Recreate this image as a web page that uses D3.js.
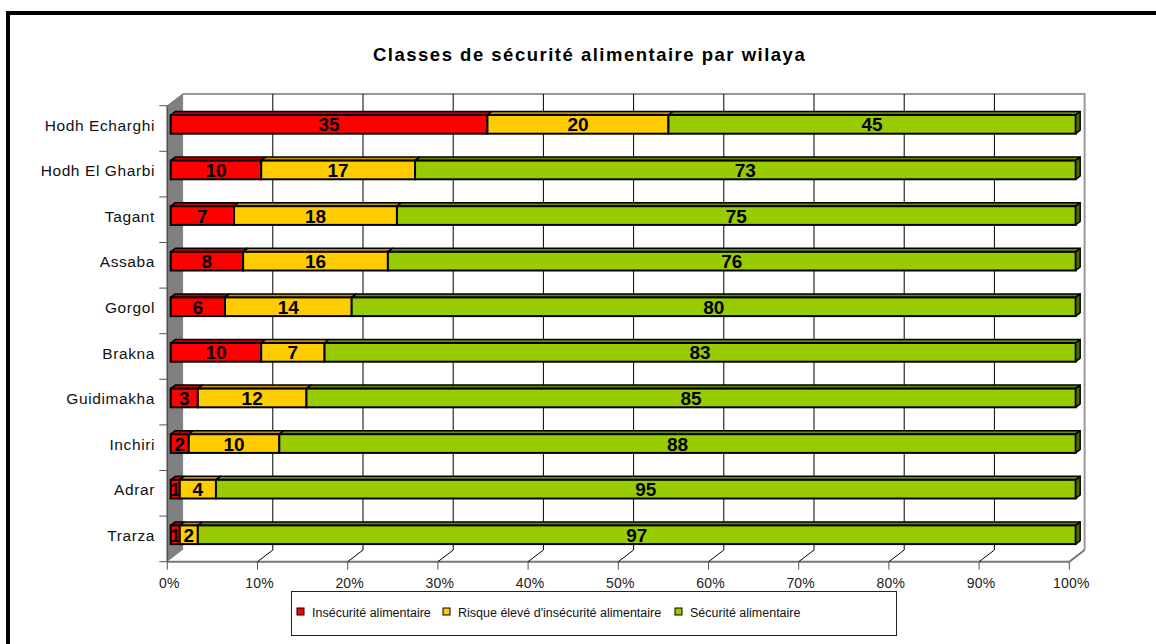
<!DOCTYPE html>
<html>
<head>
<meta charset="utf-8">
<script src="https://cdn.jsdelivr.net/npm/d3@7/dist/d3.min.js"></script>
<style>
  body { margin: 0; background: #fff; }
  svg { display: block; font-family: "Liberation Sans", Arial, sans-serif; }
</style>
</head>
<body>
<svg id="chart" width="1156" height="644"></svg>
<script>
const categories = ["Hodh Echarghi", "Hodh El Gharbi", "Tagant", "Assaba", "Gorgol", "Brakna", "Guidimakha", "Inchiri", "Adrar", "Trarza"]
const insecure = [35, 10, 7, 8, 6, 10, 3, 2, 1, 1]
const risk = [20, 17, 18, 16, 14, 7, 12, 10, 4, 2]
const secure = [45, 73, 75, 76, 80, 83, 85, 88, 95, 97]
const seriesNames = ["Insécurité alimentaire", "Risque élevé d'insécurité alimentaire", "Sécurité alimentaire"]
const xTicks = [0, 10, 20, 30, 40, 50, 60, 70, 80, 90, 100]

const colors = ["#ff0000", "#ffcc00", "#99cc00"]
const topColors = ["#c00000", "#c09000", "#668800"]
const sideColors = ["#a00000", "#a07800", "#4f6b00"]

let svg = d3.select("#chart")

// outer frame
svg.append("rect")
  .attr("x", 8).attr("y", 13)
  .attr("width", 1200).attr("height", 700)
  .attr("fill", "none").attr("stroke", "#000").attr("stroke-width", 4)

svg.append("text")
  .attr("x", 373).attr("y", 61)
  .style("font-size", "18.5px").style("font-weight", "bold")
  .style("letter-spacing", "1.5px")
  .text("Classes de sécurité alimentaire par wilaya")

// 3d box geometry
const depth = {dx: 15.3, dy: -11.7}
const front = {left: 167.3, right: 1069.3, top: 105.7, bottom: 561.7}

let x = d3.scaleLinear().domain([0, 100]).range([front.left, front.right])
let xBar = d3.scaleLinear().domain([0, 100]).range([170.7, 1075.7])
let y = d3.scaleBand().domain(categories).range([front.top, front.bottom])

let wall = svg.append("g")
const bx = v => x(v) + depth.dx
const by = v => v + depth.dy

// back wall
wall.append("rect")
  .attr("x", bx(0)).attr("y", by(front.top))
  .attr("width", x(100) - x(0)).attr("height", front.bottom - front.top)
  .attr("fill", "#fff")
wall.append("path")
  .attr("d", `M${bx(0)},${by(front.top)}H${bx(100)}V${by(front.bottom)}`)
  .attr("fill", "none").attr("stroke", "#999").attr("stroke-width", 2)

// left wall
wall.append("path")
  .attr("d", `M${x(0)},${front.top}L${bx(0)},${by(front.top)}L${bx(0)},${by(front.bottom)}L${x(0)},${front.bottom}Z`)
  .attr("fill", "#808080").attr("stroke", "#808080")

// floor
wall.append("path")
  .attr("d", `M${x(0)},${front.bottom}L${bx(0)},${by(front.bottom)}L${bx(100)},${by(front.bottom)}L${x(100)},${front.bottom}Z`)
  .attr("fill", "#fff").attr("stroke", "none")
wall.append("path")
  .attr("d", `M${x(0)},${front.bottom}H${x(100)}L${bx(100)},${by(front.bottom)}`)
  .attr("fill", "none").attr("stroke", "#777").attr("stroke-width", 2)

// gridlines on back wall and floor
wall.selectAll(".grid")
  .data(xTicks.slice(1, -1))
  .enter().append("path")
  .attr("class", "grid")
  .attr("d", d => `M${bx(d)},${by(front.top)}V${by(front.bottom)}L${x(d)},${front.bottom}`)
  .attr("fill", "none").attr("stroke", "#000").attr("stroke-width", 1)

// y axis line + ticks
wall.append("line")
  .attr("x1", x(0)).attr("x2", x(0))
  .attr("y1", front.top).attr("y2", front.bottom)
  .attr("stroke", "#555").attr("stroke-width", 1.5)
let yTickPos = categories.map(c => y(c)).concat([front.bottom])
wall.selectAll(".ytick")
  .data(yTickPos)
  .enter().append("line")
  .attr("x1", x(0) - 8).attr("x2", x(0))
  .attr("y1", d => d).attr("y2", d => d)
  .attr("stroke", "#555").attr("stroke-width", 1)

svg.selectAll(".ylabel")
  .data(categories)
  .enter().append("text")
  .attr("x", 155)
  .attr("y", d => y(d) + y.bandwidth() / 2 + 2)
  .attr("text-anchor", "end")
  .style("font-size", "15.5px").style("letter-spacing", "0.6px")
  .style("fill", "#111")
  .text(d => d)

// x axis ticks + labels
svg.selectAll(".xtick")
  .data(xTicks)
  .enter().append("line")
  .attr("x1", d => x(d)).attr("x2", d => x(d))
  .attr("y1", front.bottom).attr("y2", front.bottom + 8)
  .attr("stroke", "#555").attr("stroke-width", 1)
svg.selectAll(".xlabel")
  .data(xTicks)
  .enter().append("text")
  .attr("x", d => x(d) + 2)
  .attr("y", 588)
  .attr("text-anchor", "middle")
  .style("font-size", "14px").style("letter-spacing", "0.2px")
  .style("fill", "#222")
  .text(d => d + "%")

// bars
const barH = 18.7, bd = {dx: 4.5, dy: -3.5}
let rows = categories.map((c, i) => {
  let vals = [insecure[i], risk[i], secure[i]]
  let acc = 0
  return vals.map((v, s) => {
    let seg = {cat: c, s: s, v: v, x0: acc, x1: acc + v}
    acc += v
    return seg
  })
})

let bars = svg.append("g")
rows.forEach(row => {
  let g = bars.append("g")
  let top = y(row[0].cat) + 9.3
  row.forEach(seg => {
    let a = xBar(seg.x0), b = xBar(seg.x1)
    g.append("path")//top face
      .attr("d", `M${a},${top}L${a + bd.dx},${top + bd.dy}L${b + bd.dx},${top + bd.dy}L${b},${top}Z`)
      .attr("fill", topColors[seg.s]).attr("stroke", "#000").attr("stroke-width", 1.5)
      .attr("stroke-linejoin", "round")
    g.append("rect")//front face
      .attr("x", a).attr("y", top)
      .attr("width", b - a).attr("height", barH)
      .attr("fill", colors[seg.s]).attr("stroke", "#000").attr("stroke-width", 2)
    if (seg.s == 2) {
      g.append("path")//side face
        .attr("d", `M${b},${top}L${b + bd.dx},${top + bd.dy}L${b + bd.dx},${top + barH + bd.dy}L${b},${top + barH}Z`)
        .attr("fill", sideColors[seg.s]).attr("stroke", "#000").attr("stroke-width", 1.5)
        .attr("stroke-linejoin", "round")
    }
  })
  row.forEach(seg => {
    g.append("text")
      .attr("x", (xBar(seg.x0) + xBar(seg.x1)) / 2)
      .attr("y", top + barH / 2 + 7)
      .attr("text-anchor", "middle")
      .style("font-size", "19px").style("font-weight", "bold")
      .text(seg.v)
  })
})

// legend
let legend = svg.append("g")
legend.append("rect")
  .attr("x", 291.5).attr("y", 591.5)
  .attr("width", 605).attr("height", 44)
  .attr("fill", "#fff").attr("stroke", "#222").attr("stroke-width", 1)
const legendX = [297, 443, 675]
seriesNames.forEach((n, i) => {
  legend.append("rect")
    .attr("x", legendX[i]).attr("y", 608)
    .attr("width", 7).attr("height", 7)
    .attr("fill", colors[i]).attr("stroke", "#000").attr("stroke-width", 1)
  legend.append("text")
    .attr("x", legendX[i] + 15).attr("y", 617)
    .style("font-size", "12.5px")
    .style("fill", "#111")
    .text(n)
})
</script>
</body>
</html>
